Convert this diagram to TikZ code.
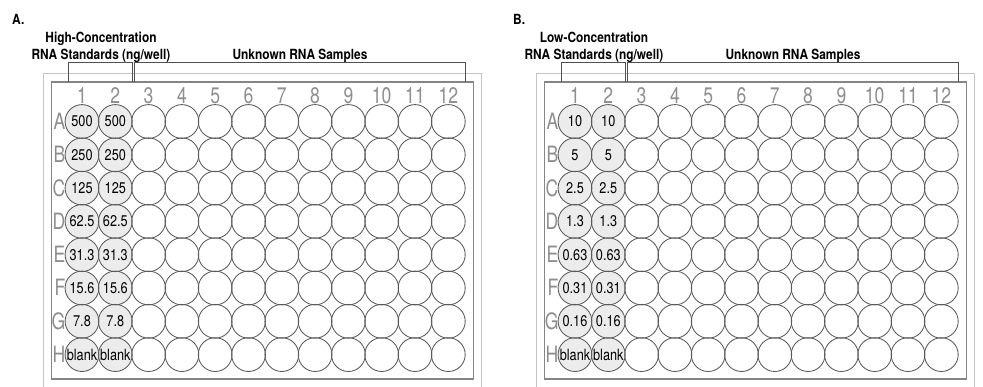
\documentclass[tikz,border=0pt]{standalone}
\usepackage{fontspec}
\setmainfont{TeX Gyre Heros}
\newfontfamily\hdrfont{TeX Gyre Heros}[FakeStretch=0.85]
\newfontfamily\numfont{TeX Gyre Heros}[FakeStretch=0.78]
\newfontfamily\wellfont{TeX Gyre Heros}[FakeStretch=0.82]
\definecolor{outergray}{HTML}{C4C4C4}
\definecolor{innergray}{HTML}{858585}
\definecolor{wellline}{HTML}{5A5A5A}
\definecolor{wellfill}{HTML}{ECECEC}
\definecolor{labelgray}{HTML}{8E8E8E}
\definecolor{brackgray}{HTML}{505050}
\tikzset{
  outerframe/.style={draw=outergray, line width=1.2pt},
  innerframe/.style={draw=innergray, line width=1.1pt},
  bracketline/.style={draw=brackgray, line width=1pt},
  wellbg/.style={fill=wellfill},
  well/.style={circle, draw=wellline, line width=0.85pt, minimum size=33.8pt, inner sep=0pt},
  welltext/.style={anchor=base, inner sep=0pt, font=\wellfont\fontsize{15.5}{15.5}\selectfont},
  axislabel/.style={anchor=base, inner sep=0pt, text=labelgray, font=\numfont\fontsize{22.5}{22.5}\selectfont},
  hdr/.style={anchor=base, inner sep=0pt, font=\hdrfont\bfseries\fontsize{14}{14}\selectfont},
}
\newcommand\drawplate[5]{% #1 prefix, #2 x offset, #3 panel letter x, #4 title, #5 labels
\begin{scope}[xshift=#2pt]
  \draw[outerframe] (43.5,390) |- (481.5,73.5) -- (481.5,390);
  \draw[innerframe] (51.5,82) rectangle (473.5,379);
  \draw[bracketline] (68,82) |- (132.2,63) -- (132.2,82);
  \draw[bracketline] (134.8,82) |- (465,63) -- (465,82);
  \node[hdr, anchor=base west] (#1-panel) at (#3,24.3) {#1.};
  \node[hdr] (#1-title1) at (101,42.3) {#4};
  \node[hdr] (#1-title2) at (101,60) {RNA Standards (ng/well)};
  \node[hdr] (#1-title3) at (300,60) {Unknown RNA Samples};
  \foreach \c in {1,...,12} {
    \node[axislabel] (#1-col\c) at ({82+33.3*(\c-1)},104) {\c};
  }
  \foreach \lab [count=\r] in {#5} {
    \foreach \c in {1,2} {
      \fill[wellbg] ({82+33.3*(\c-1)},{121.5+33.3*(\r-1)}) circle[radius=16.9pt];
    }
  }
  \foreach \r in {1,...,8} {
    \foreach \c in {1,...,12} {
      \node[well] (#1-w\r-\c) at ({82+33.3*(\c-1)},{121.5+33.3*(\r-1)}) {};
    }
  }
  \foreach \L [count=\r] in {A,B,C,D,E,F,G,H} {
    \node[axislabel, anchor=base east] (#1-row\r) at (65.6,{121.5+33.3*(\r-1)+8}) {\L};
  }
  \foreach \lab [count=\r] in {#5} {
    \foreach \c in {1,2} {
      \node[welltext] (#1-t\r-\c) at ({82+33.3*(\c-1)},{121.5+33.3*(\r-1)+5.5}) {\lab};
    }
  }
\end{scope}}
\begin{document}
\begin{tikzpicture}[x=1pt,y=-1pt]
  \useasboundingbox (0,0) rectangle (983,387);
  \fill[white] (0,0) rectangle (983,387);
  \drawplate{A}{0}{12}{High-Concentration}{500,250,125,62.5,31.3,15.6,7.8,blank}
  \drawplate{B}{493}{20}{Low-Concentration}{10,5,2.5,1.3,0.63,0.31,0.16,blank}
\end{tikzpicture}
\end{document}
